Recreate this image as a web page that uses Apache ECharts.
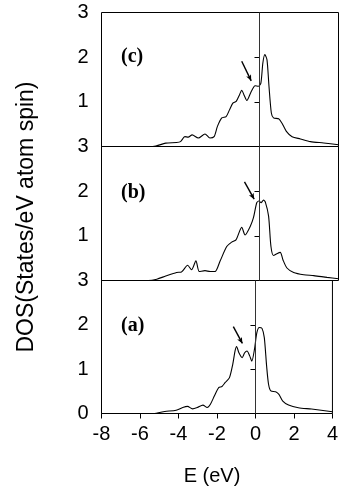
<!DOCTYPE html>
<html>
<head>
<meta charset="utf-8">
<script src="https://cdn.jsdelivr.net/npm/echarts@6/dist/echarts.min.js"></script>
<style>
  html, body { margin: 0; padding: 0; background: #fff; }
  #chart { width: 341px; height: 493px; }
</style>
</head>
<body>
<div id="chart"></div>
<script>
// energy grid (eV) and DOS values for each panel
const energyC = [-8, -5.4, -4.75, -4.2, -4.0, -3.78, -3.61, -3.41, -3.1, -2.76, -2.51, -2.3, -2.13, -1.91, -1.69, -1.52, -1.35, -1.18, -1.01, -0.9, -0.78, -0.64, -0.44, -0.22, -0.05, 0.07, 0.17, 0.27, 0.38, 0.48, 0.6, 0.71, 0.97, 1.14, 1.36, 1.65, 2.07, 2.58, 3.25, 4.0];
const dosC = [0, 0, 0.075, 0.09, 0.11, 0.22, 0.21, 0.26, 0.19, 0.28, 0.19, 0.22, 0.45, 0.64, 0.67, 0.82, 0.97, 1.01, 1.16, 1.26, 1.15, 1.03, 1.21, 1.36, 1.35, 1.42, 1.87, 2.06, 1.94, 1.35, 0.75, 0.64, 0.62, 0.52, 0.34, 0.22, 0.17, 0.11, 0.08, 0.04];

const energyB = [-8, -5.64, -5.2, -4.75, -4.2, -3.95, -3.64, -3.44, -3.22, -3.05, -2.76, -2.5, -2.25, -2.0, -1.66, -1.41, -1.19, -0.9, -0.73, -0.47, -0.31, -0.14, -0.03, 0.08, 0.2, 0.3, 0.46, 0.58, 0.71, 0.88, 1.05, 1.19, 1.39, 1.73, 2.24, 2.75, 3.42, 4.0];
const dosB = [0, 0, 0.03, 0.1, 0.18, 0.19, 0.34, 0.24, 0.44, 0.2, 0.22, 0.2, 0.2, 0.43, 0.76, 0.86, 0.91, 1.19, 1.02, 1.21, 1.4, 1.74, 1.78, 1.74, 1.8, 1.75, 1.44, 0.76, 0.56, 0.6, 0.63, 0.46, 0.28, 0.18, 0.13, 0.11, 0.07, 0.04];

const energyA = [-8, -5.3, -4.71, -4.12, -3.78, -3.53, -3.27, -3.02, -2.73, -2.51, -2.34, -2.13, -1.91, -1.74, -1.57, -1.35, -1.18, -1.06, -0.98, -0.86, -0.69, -0.56, -0.44, -0.3, -0.19, -0.05, 0.07, 0.2, 0.34, 0.46, 0.58, 0.68, 0.8, 1.05, 1.22, 1.42, 1.72, 2.23, 2.91, 4.0];
const dosA = [0, 0, 0.045, 0.075, 0.135, 0.16, 0.105, 0.135, 0.19, 0.135, 0.21, 0.4, 0.585, 0.61, 0.7, 0.81, 1.11, 1.41, 1.51, 1.37, 1.26, 1.37, 1.41, 1.3, 1.18, 1.45, 1.82, 1.94, 1.92, 1.71, 1.07, 0.66, 0.51, 0.49, 0.43, 0.28, 0.19, 0.13, 0.1, 0.04];

// arrow annotations [start, end] in (E, DOS)
const arrowC = [[-0.9, 1.91], [-0.42, 1.47]];
const arrowB = [[-0.76, 2.21], [-0.27, 1.82]];
const arrowA = [[-1.15, 1.96], [-0.68, 1.58]];

const panelNames = ["(c)", "(b)", "(a)"];
const xTicks = { min: -8, max: 4, interval: 2 };
const yTicks = { min: 0, max: 3, interval: 1 };

// half-pixel offsets keep the 1px frame lines crisp
const panels = [
  { name: panelNames[0], energy: energyC, dos: dosC, arrow: arrowC, top: 12.5, height: 134, labelY: 58 },
  { name: panelNames[1], energy: energyB, dos: dosB, arrow: arrowB, top: 146.5, height: 134, labelY: 194 },
  { name: panelNames[2], energy: energyA, dos: dosA, arrow: arrowA, top: 280.5, height: 133, labelY: 327 },
];

const sans = "'Liberation Sans', Arial, sans-serif";
const last = panels.length - 1;

const chart = echarts.init(document.getElementById("chart"));

const option = {
  animation: false,
  backgroundColor: "#fff",
  grid: panels.map((p) => ({
    left: 101.5,
    right: 2.5,
    top: p.top,
    height: p.height,
    show: true,
    borderColor: "#000",
    borderWidth: 1,
    backgroundColor: "transparent",
  })),
  xAxis: panels.map((p, i) => ({
    type: "value",
    gridIndex: i,
    min: xTicks.min,
    max: xTicks.max,
    interval: xTicks.interval,
    axisLine: { show: false, onZero: false },
    axisTick: { show: i === last, inside: false, length: 5, lineStyle: { color: "#000" } },
    axisLabel: {
      show: i === last,
      color: "#000",
      fontFamily: sans,
      fontSize: 20,
      margin: 11,
    },
    splitLine: { show: false },
  })),
  yAxis: panels.map((p, i) => ({
    type: "value",
    gridIndex: i,
    min: yTicks.min,
    max: yTicks.max,
    interval: yTicks.interval,
    axisLine: { show: false },
    axisTick: { show: true, inside: false, length: 5, lineStyle: { color: "#000" } },
    axisLabel: {
      color: "#000",
      fontFamily: sans,
      fontSize: 20,
      margin: 13,
      formatter: (v) => (v === 0 && i !== last ? "" : String(v)),
    },
    splitLine: { show: false },
  })),
  series: panels.map((p, i) => ({
    type: "line",
    xAxisIndex: i,
    yAxisIndex: i,
    data: p.energy.map((e, k) => [e, p.dos[k]]),
    showSymbol: false,
    smooth: 0.25,
    lineStyle: { color: "#000", width: 1.1 },
    markLine: {
      silent: true,
      symbol: ["none", "none"],
      label: { show: false },
      lineStyle: { color: "#333", width: 1, type: "solid" },
      data: [
        { xAxis: 0 },
        [
          { coord: p.arrow[0], symbol: "none", lineStyle: { color: "#000", width: 1.4 } },
          { coord: p.arrow[1], symbol: "arrow", symbolSize: [4, 6] },
        ],
      ],
    },
  })),
  graphic: [
    ...panels.map((p) => ({
      type: "text",
      left: 121,
      top: p.labelY - 11,
      style: {
        text: p.name,
        fill: "#000",
        font: "bold 20px 'Liberation Serif', 'Times New Roman', serif",
      },
    })),
    {
      type: "text",
      x: 212,
      y: 476,
      style: {
        text: "E (eV)",
        fill: "#000",
        font: "20px " + sans,
        textAlign: "center",
        textVerticalAlign: "middle",
      },
    },
    {
      type: "text",
      x: 27,
      y: 217,
      rotation: Math.PI / 2,
      style: {
        text: "DOS(States/eV atom spin)",
        fill: "#000",
        font: "23px " + sans,
        textAlign: "center",
        textVerticalAlign: "middle",
      },
    },
  ],
};

chart.setOption(option);
</script>
</body>
</html>
